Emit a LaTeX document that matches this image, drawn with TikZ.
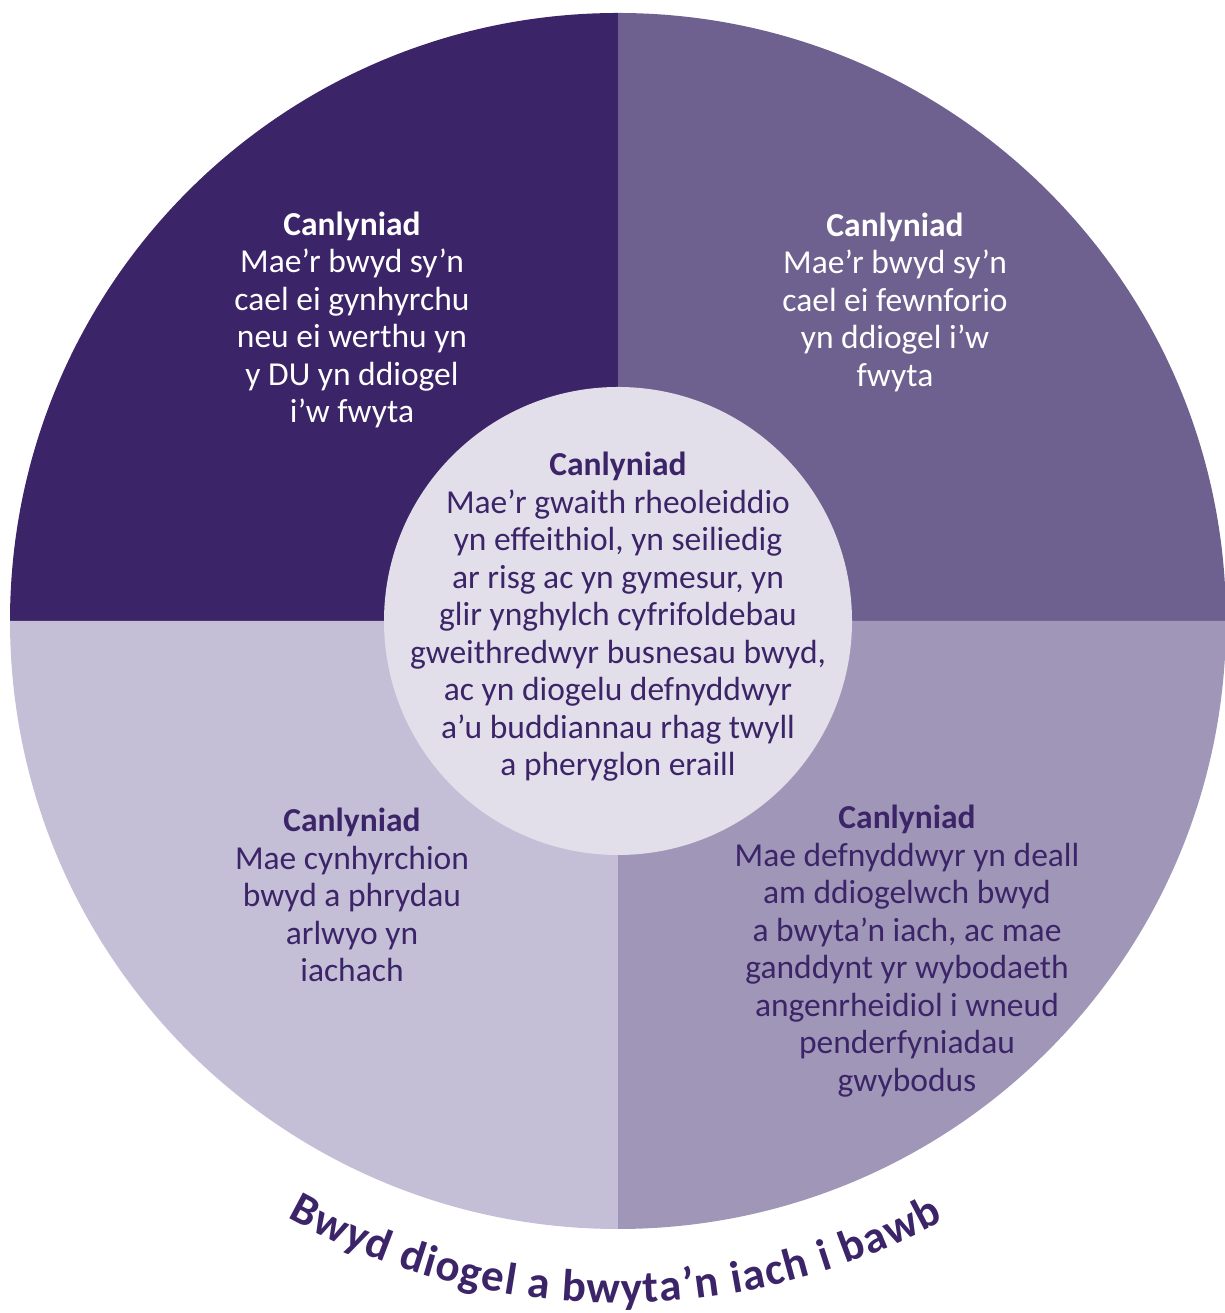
\documentclass[tikz,border=0pt]{standalone}
\usepackage{fontspec}
\setmainfont{Carlito}
\usepackage{tikz}
\usetikzlibrary{decorations.text}
\definecolor{plumdark}{HTML}{3C2468}
\definecolor{plummid}{HTML}{6E6190}
\definecolor{plumsoft}{HTML}{A097B8}
\definecolor{plumlight}{HTML}{C4BFD6}
\definecolor{plumpale}{HTML}{E2DFEA}

\begin{document}
\begin{tikzpicture}[x=1pt, y=1pt,
		blurb/.style={align=center, inner sep=0pt, font=\fontsize{33.5}{37.5}\selectfont},
		quarter/.style={radius=608}]
				\useasboundingbox (0,0) rectangle (1224,1313);
				\coordinate (c) at (618,692);
				\fill [plumdark] (c) -- ++(90:608) arc[start angle=90, end angle=180, quarter] -- cycle;
				\fill [plummid] (c) -- ++(0:608) arc[start angle=0, end angle=90, quarter] -- cycle;
				\fill [plumlight] (c) -- ++(180:608) arc[start angle=180, end angle=270, quarter] -- cycle;
				\fill [plumsoft] (c) -- ++(270:608) arc[start angle=270, end angle=360, quarter] -- cycle;
				\fill [plumpale] (c) circle[radius=234];
				\node [blurb, text=white] (north west) at (352,993) {\textbf{Canlyniad}\\Mae’r bwyd sy’n\\cael ei gynhyrchu\\neu ei werthu yn\\y DU yn ddiogel\\i’w fwyta};
				\node [blurb, text=white] (north east) at (895,1011) {\textbf{Canlyniad}\\Mae’r bwyd sy’n\\cael ei fewnforio\\yn ddiogel i’w\\fwyta};
				\node [blurb, text=plumdark] (middle) at (618,696) {\textbf{Canlyniad}\\Mae’r gwaith rheoleiddio\\yn effeithiol, yn seiliedig\\ar risg ac yn gymesur, yn\\glir ynghylch cyfrifoldebau\\gweithredwyr busnesau bwyd,\\ac yn diogelu defnyddwyr\\a’u buddiannau rhag twyll\\a pheryglon eraill};
				\node [blurb, text=plumdark] (south west) at (352,418) {\textbf{Canlyniad}\\Mae cynhyrchion\\bwyd a phrydau\\arlwyo yn\\iachach};
				\node [blurb, text=plumdark] (south east) at (907,362) {\textbf{Canlyniad}\\Mae defnyddwyr yn deall\\am ddiogelwch bwyd\\a bwyta’n iach, ac mae\\ganddynt yr wybodaeth\\angenrheidiol i wneud\\penderfyniadau\\gwybodus};
				\path [decorate, decoration={text along path, text align={fit to path}, text color=plumdark,
					text={|\fontsize{45}{45}\selectfont\bfseries|Bwyd diogel a bwyta’n iach i bawb}}]
					([shift={(241:682)}]c) arc[start angle=241, end angle=298.5, radius=682];
				\end{tikzpicture}
\end{document}
